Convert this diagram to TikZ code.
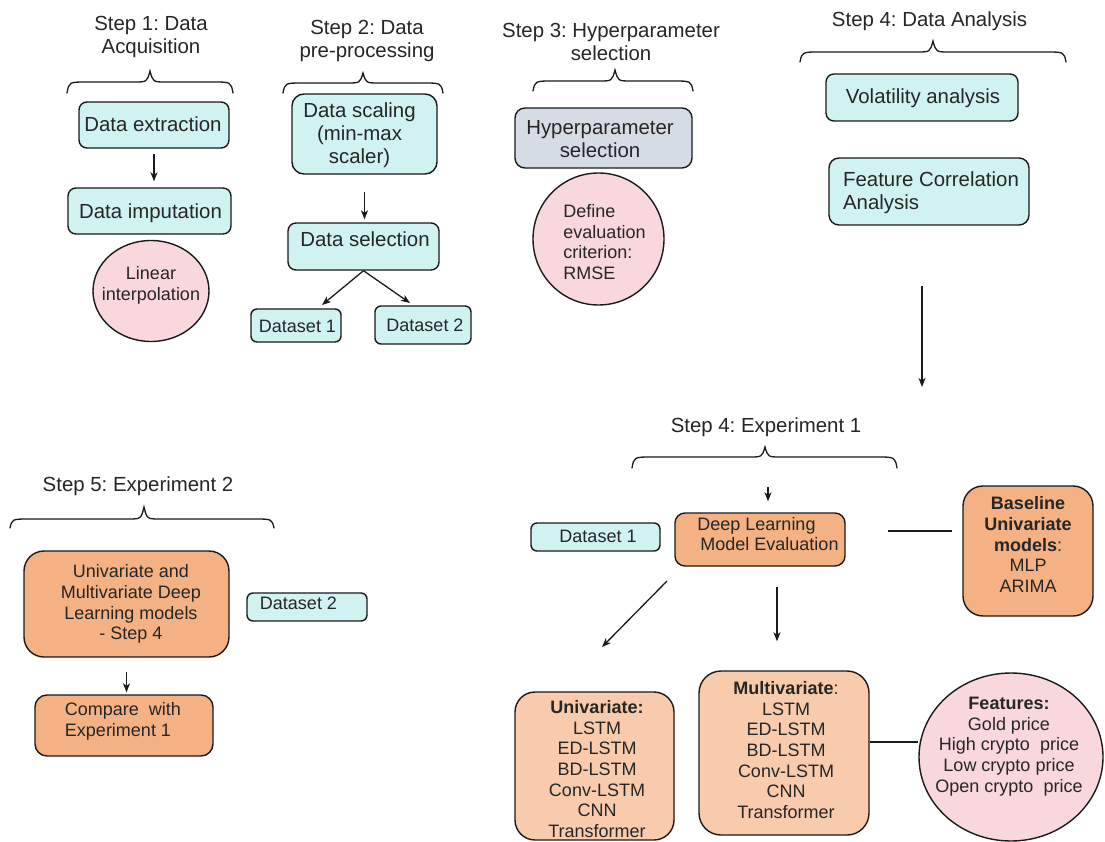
\documentclass[tikz,border=0pt]{standalone}
\usepackage{fontspec}
\setmainfont{Liberation Sans}
\usetikzlibrary{arrows.meta,shapes.geometric}
\frenchspacing
\definecolor{cyanf}{HTML}{D0F2F0}
\definecolor{greyf}{HTML}{D6DCE5}
\definecolor{pinkf}{HTML}{F8D7DD}
\definecolor{orangef}{HTML}{F4B183}
\definecolor{lorangef}{HTML}{F8CBAD}
\definecolor{txtc}{HTML}{262626}
\definecolor{linec}{HTML}{1A1A1A}
\newcommand\fszA{\fontsize{20.4}{23}\selectfont}
\newcommand\fszB{\fontsize{18}{20.7}\selectfont}
\newcommand\gbrace[6]{\draw[brc] (#1,#4) .. controls (#1+2,#5) .. (#1+20,#5) -- (#3-16,#5) .. controls (#3-3,#5) .. (#3,#6) .. controls (#3+3,#5) .. (#3+16,#5) -- (#2-20,#5) .. controls (#2-2,#5) .. (#2,#4);}
\tikzset{
  shp/.style={draw=linec, line width=1.4pt, inner sep=0pt},
  rbox/.style={shp, rectangle, rounded corners=#1},
  rbox/.default=8pt,
  oval/.style={shp, ellipse, fill=pinkf},
  cy/.style={fill=cyanf},
  gy/.style={fill=greyf},
  og/.style={fill=orangef},
  lo/.style={fill=lorangef},
  txtA/.style={inner sep=0pt, align=center, text=txtc, font=\fszA},
  txtB/.style={inner sep=0pt, align=center, text=txtc, font=\fszB},
  arr/.style={-{Stealth[length=9pt,width=7pt,inset=2.5pt]}, line width=1.3pt, draw=linec},
  ln/.style={line width=1.3pt, draw=linec},
  brc/.style={line width=1.3pt, draw=linec, line cap=round}
}
\begin{document}
\begin{tikzpicture}[x=1pt,y=-1pt]
\useasboundingbox (0,0) rectangle (1105,842);
\fill[white] (0,0) rectangle (1105,842);

% ---------- Step 1
\node[txtA] (t1) at (151,36.5) {Step 1: Data\\Acquisition};
\gbrace{67}{233}{150}{93}{82}{71}
\node[rbox, cy, minimum width=150pt, minimum height=46pt] (ext) at (154,125) {};
\node[txtA] (ext-t) at (153,124) {Data extraction};
\node[rbox, cy, minimum width=163pt, minimum height=46pt] (imp) at (149.5,211) {};
\node[txtA] (imp-t) at (150.5,213) {Data imputation};
\node[oval, minimum width=116pt, minimum height=101pt] (lin) at (151,291) {};
\node[txtB] (lin-t) at (151,285) {Linear\\interpolation};
\draw[arr, shorten <=5pt, shorten >=6pt] (ext.south) -- (ext.south |- imp.north);

% ---------- Step 2
\node[txtA] (t2) at (367,40.5) {Step 2: Data\\pre-processing};
\gbrace{283}{443}{363}{93}{83}{73}
\node[rbox=12pt, cy, minimum width=145pt, minimum height=80pt] (scal) at (364.5,134) {};
\node[txtA] (scal-t) at (359.5,135) {Data scaling\\(min-max\\scaler)};
\node[rbox, cy, minimum width=151pt, minimum height=47pt] (sel) at (363.5,246.5) {};
\node[txtA] (sel-t) at (365,239) {Data selection};
\node[rbox=6pt, cy, minimum width=90pt, minimum height=33pt] (ds1a) at (296,325.5) {};
\node[txtB] (ds1a-t) at (297.5,326) {Dataset 1};
\node[rbox=6pt, cy, minimum width=96pt, minimum height=38pt] (ds2a) at (423,325) {};
\node[txtB] (ds2a-t) at (425,325) {Dataset 2};
\draw[arr, shorten <=17pt, shorten >=3pt] (scal.south) -- (scal.south |- sel.north);
\coordinate (d1) at (322,305);
\coordinate (d2) at (410,303);
\draw[arr] (sel.south) -- (d1);
\draw[arr] (sel.south) -- (d2);

% ---------- Step 3
\node[txtA] (t3) at (611,42) {Step 3: Hyperparameter\\selection};
\gbrace{533}{693}{615}{91}{81}{70}
\node[rbox=10pt, gy, minimum width=177pt, minimum height=60pt] (hyp) at (603.5,138) {};
\node[txtA] (hyp-t) at (600,139.5) {Hyperparameter\\selection};
\node[oval, minimum width=131pt, minimum height=132pt] (def) at (598.5,239) {};
\node[txtB, align=left] (def-t) at (604.5,242) {Define\\evaluation\\criterion:\\RMSE};

% ---------- Step 4: Data Analysis
\node[txtA] (t4) at (929.5,21) {Step 4: Data Analysis};
\gbrace{800}{1066}{933}{62}{52}{41}
\node[rbox, cy, minimum width=192pt, minimum height=47pt] (vol) at (922,97.5) {};
\node[txtA] (vol-t) at (923,98) {Volatility analysis};
\node[rbox=10pt, cy, minimum width=200pt, minimum height=67pt] (fca) at (929,191.5) {};
\node[txtA, align=left] (fca-t) at (931,193) {Feature Correlation\\Analysis};
\coordinate (da1) at (922,286);
\coordinate (da2) at (922,387);
\draw[arr] (da1) -- (da2);

% ---------- Step 4: Experiment 1
\node[txtA] (t5) at (766,427) {Step 4: Experiment 1};
\gbrace{632}{897}{765}{468}{457}{447}
\node[rbox=6pt, cy, minimum width=129pt, minimum height=28pt] (ds1b) at (595.5,537) {};
\node[txtB] (ds1b-t) at (598,536) {Dataset 1};
\node[rbox=10pt, og, minimum width=170pt, minimum height=53pt] (dl) at (760,539.5) {};
\node[txtB, align=left] (dl-t) at (768,534) {Deep Learning\\\hspace*{3pt}Model Evaluation};
\node[rbox=20pt, og, minimum width=130pt, minimum height=130pt] (base) at (1028,551) {};
\node[txtB] (base-t) at (1028,544.5) {\textbf{Baseline}\\\textbf{Univariate}\\\textbf{models}:\\MLP\\ARIMA};
\node[rbox=20pt, lo, minimum width=159pt, minimum height=148pt] (univ) at (594.5,766) {};
\node[txtB] (univ-t) at (597,769) {\textbf{Univariate:}\\LSTM\\ED-LSTM\\BD-LSTM\\Conv-LSTM\\CNN\\Transformer};
\node[rbox=22pt, lo, minimum width=170pt, minimum height=164pt] (multi) at (784,753) {};
\node[txtB] (multi-t) at (786,750) {\textbf{Multivariate}:\\LSTM\\ED-LSTM\\BD-LSTM\\Conv-LSTM\\CNN\\Transformer};
\node[oval, minimum width=184pt, minimum height=168pt] (feat) at (1011,757) {};
\node[txtB] (feat-t) at (1009,746.5) {\textbf{Features:}\\Gold price\\High crypto\ \ price\\Low crypto price\\Open crypto\ \ price};
\coordinate (e1) at (768,487);
\draw[arr, shorten >=11pt] (e1) -- (e1 |- dl.north);
\draw[ln, shorten <=42pt, shorten >=10pt] (dl.east |- 0,531) -- (base.west |- 0,531);
\coordinate (u1) at (667,581);
\coordinate (u2) at (602,647);
\draw[arr] (u1) -- (u2);
\coordinate (m1) at (777,587);
\draw[arr, shorten >=29pt] (m1) -- (m1 |- multi.north);
\draw[ln] (multi.east |- 0,742) -- (feat.west |- 0,742);

% ---------- Step 5
\node[txtA] (t6) at (138,486) {Step 5: Experiment 2};
\gbrace{10}{274}{144}{528}{519}{507}
\node[rbox=20pt, og, minimum width=205pt, minimum height=106pt] (um) at (126.5,604) {};
\node[txtB] (um-t) at (131,604) {Univariate and\\Multivariate Deep\\Learning models\\- Step 4};
\node[rbox=6pt, cy, minimum width=120pt, minimum height=28pt] (ds2b) at (307,607) {};
\node[txtB] (ds2b-t) at (298.5,603) {Dataset 2};
\node[rbox=12pt, og, minimum width=178pt, minimum height=61pt] (cmp) at (124,725.5) {};
\node[txtB, align=left] (cmp-t) at (123,721.5) {Compare\ \ with\\Experiment 1};
\draw[arr, shorten <=14pt, shorten >=2pt] (um.south) -- (um.south |- cmp.north);
\end{tikzpicture}
\end{document}
